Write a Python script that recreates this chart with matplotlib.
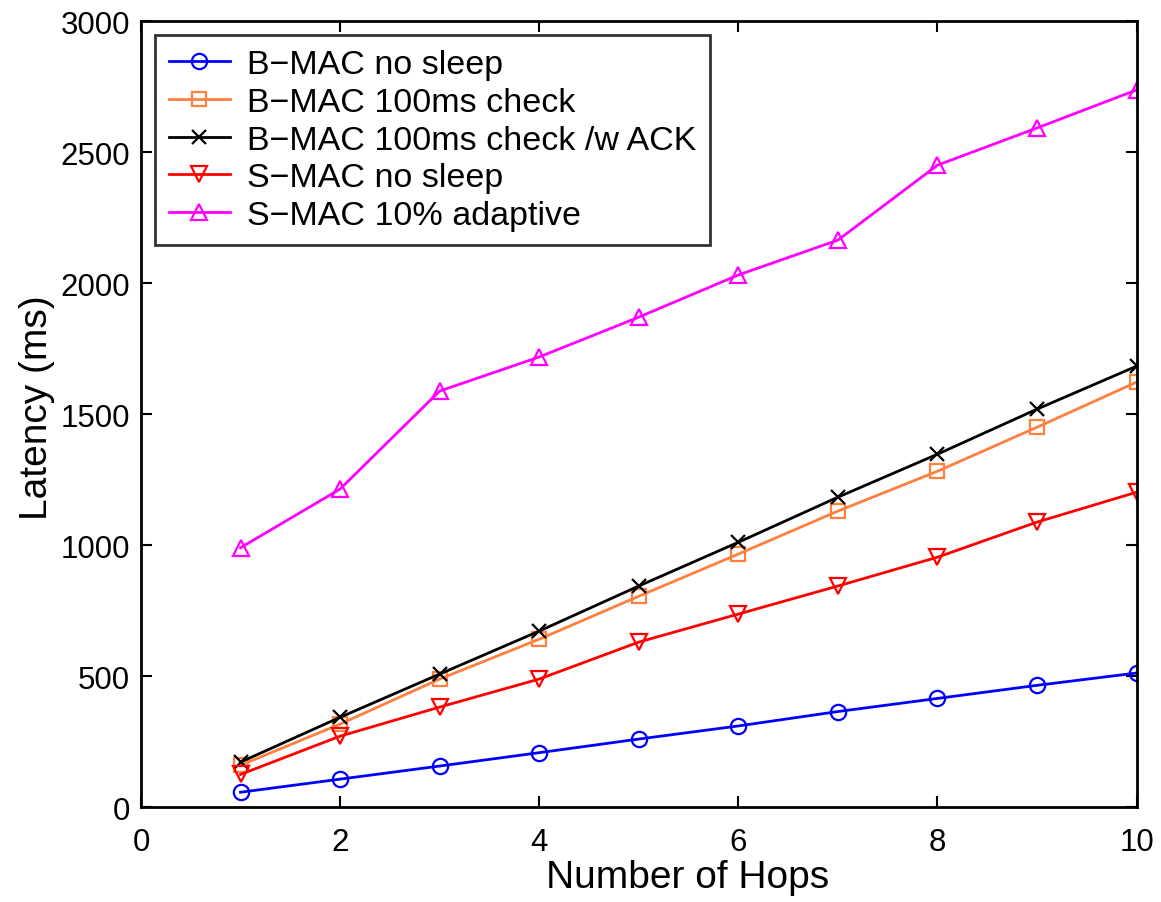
import matplotlib
matplotlib.use("Agg")
import matplotlib.pyplot as plt

plt.rcParams['font.family'] = ['Liberation Sans', 'DejaVu Sans']

hops = [1, 2, 3, 4, 5, 6, 7, 8, 9, 10]
bmac_nosleep = [57, 107, 157, 208, 260, 310, 365, 415, 465, 512]
bmac_100ms = [160, 317, 489, 641, 805, 966, 1130, 1282, 1450, 1622]
bmac_100ms_ack = [172, 343, 508, 672, 844, 1011, 1183, 1347, 1519, 1683]
smac_nosleep = [125, 271, 382, 489, 630, 737, 844, 954, 1088, 1202]
smac_adaptive = [990, 1214, 1588, 1718, 1870, 2031, 2164, 2450, 2592, 2737]

labels = ["B\u2212MAC no sleep", "B\u2212MAC 100ms check", "B\u2212MAC 100ms check /w ACK",
          "S\u2212MAC no sleep", "S\u2212MAC 10% adaptive"]

fig = plt.figure(figsize=(11.61, 9.03), dpi=100)
ax = fig.add_axes([0.1214, 0.105, 0.8576, 0.8706])

ms = 11
ax.plot(hops, bmac_nosleep, color='#0000ff', marker='o', mfc='none', ms=ms, lw=2, mew=1.6, label=labels[0])
ax.plot(hops, bmac_100ms, color='#ff7f3f', marker='s', mfc='none', ms=ms-1, lw=2, mew=1.6, label=labels[1])
ax.plot(hops, bmac_100ms_ack, color='black', marker='x', ms=ms-1, lw=2, mew=1.6, label=labels[2])
ax.plot(hops, smac_nosleep, color='#ff0000', marker='v', mfc='none', ms=ms, lw=2, mew=1.6, label=labels[3])
ax.plot(hops, smac_adaptive, color='#ff00ff', marker='^', mfc='none', ms=ms, lw=2, mew=1.6, label=labels[4])

ax.set_xlim(0, 10)
ax.set_ylim(0, 3000)
ax.set_xticks(range(0, 11, 2))
ax.set_yticks(range(0, 3001, 500))
ax.tick_params(direction='in', top=True, right=True, length=8, width=1.5, labelsize=22.5)
ax.tick_params(axis='x', pad=14)
ax.tick_params(axis='y', pad=8)
for s in ax.spines.values():
    s.set_linewidth(2)
ax.set_xlabel("Number of Hops", fontsize=28)
ax.set_ylabel("Latency (ms)", fontsize=28)
ax.xaxis.set_label_coords(0.549, -0.066)
ax.yaxis.set_label_coords(-0.086, 0.509)

leg = ax.legend(loc='upper left', fontsize=24.5, frameon=True, fancybox=False,
                edgecolor='black', borderaxespad=0.42, handlelength=1.8,
                labelspacing=0.2, borderpad=0.4, handletextpad=0.5)
leg.get_frame().set_linewidth(2)

fig.savefig("out.png", dpi=100)
